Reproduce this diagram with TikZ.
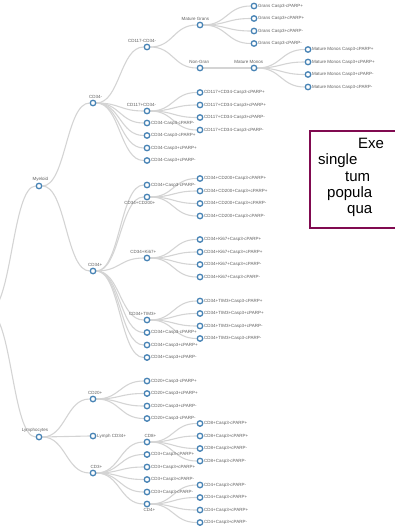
\documentclass[tikz,border=0pt]{standalone}
\usepackage{fontspec}
\setmainfont{Liberation Sans}
\usepackage{xcolor}
\usepackage{tikz}
\usetikzlibrary{calc}
\usetikzlibrary{backgrounds}

\definecolor{nodeblue}{RGB}{70,130,180}
\definecolor{linkgray}{RGB}{212,212,212}
\definecolor{labelgray}{RGB}{95,95,95}
\definecolor{boxpurple}{RGB}{128,10,80}

\begin{document}
\begin{tikzpicture}[x=1pt,y=-1pt,
    tree node/.style={circle,draw=nodeblue,fill=white,line width=1.3pt,inner sep=0pt,minimum size=5.5pt},
    lbl/.style={font=\fontsize{4.5}{5}\selectfont,text=labelgray,inner sep=0.6pt},
    leaf/.style={tree node,label={[lbl]right:#1}},
    up/.style={tree node,label={[lbl,anchor=south east,xshift=10pt]north:#1}},
    down/.style={tree node,label={[lbl,anchor=north east,xshift=9pt]south:#1}},
    link/.style={draw=linkgray,line width=1.1pt},
    diag/.style={to path={let \p1=(\tikztostart),\p2=(\tikztotarget) in
        .. controls ({(\x1+\x2)/2},\y1) and ({(\x1+\x2)/2},\y2) .. (\tikztotarget)}},
    boxtxt/.style={font=\fontsize{15}{16}\selectfont,inner sep=0pt,anchor=base west}]

    \useasboundingbox (0,0) rectangle (395,530);

    % tree
    \node[tree node] (root) at (-15,311.5) {};
    \node[up=Myeloid] (mye) at (39,186) {};
    \node[up=Lymphocytes] (lym) at (39,437) {};

    \node[up=CD34-] (cdneg) at (93,103) {};
    \node[up=CD34+] (cdpos) at (93,271) {};

    \node[up=CD117-CD34-] (kitneg) at (147,47) {};
    \node[up=CD117+CD34-] (kitpos) at (147,111) {};
    \node[leaf=CD34-Casp3-cPARP-] (neg1) at (147,123) {};
    \node[leaf=CD34-Casp3-cPARP+] (neg2) at (147,135.5) {};
    \node[leaf=CD34-Casp3+cPARP+] (neg3) at (147,148) {};
    \node[leaf=CD34-Casp3+cPARP-] (neg4) at (147,160.5) {};

    \node[up=Mature Grans] (grans) at (200,25) {};
    \node[up=Non-Gran] (nongran) at (200,68) {};
    \node[leaf=Grans Casp3-cPARP+] (gr1) at (254,6) {};
    \node[leaf=Grans Casp3+cPARP+] (gr2) at (254,18.5) {};
    \node[leaf=Grans Casp3+cPARP-] (gr3) at (254,31) {};
    \node[leaf=Grans Casp3-cPARP-] (gr4) at (254,43.5) {};
    \node[up=Mature Monos] (monos) at (254,68) {};
    \node[leaf=Mature Monos Casp3-cPARP+] (mo1) at (308,49.5) {};
    \node[leaf=Mature Monos Casp3+cPARP+] (mo2) at (308,62) {};
    \node[leaf=Mature Monos Casp3+cPARP-] (mo3) at (308,74.5) {};
    \node[leaf=Mature Monos Casp3-cPARP-] (mo4) at (308,87) {};

    \node[leaf=CD117+CD34-Casp3-cPARP+] (kp1) at (200,92.5) {};
    \node[leaf=CD117+CD34-Casp3+cPARP+] (kp2) at (200,105) {};
    \node[leaf=CD117+CD34-Casp3+cPARP-] (kp3) at (200,117.5) {};
    \node[leaf=CD117+CD34-Casp3-cPARP-] (kp4) at (200,130) {};

    \node[leaf=CD34+Casp3-cPARP-] (pos1) at (147,185) {};
    \node[down=CD34+CD200+] (cd200) at (147,197) {};
    \node[up=CD34+Ki67+] (ki67) at (147,258) {};
    \node[up=CD34+TIM3+] (tim3) at (147,320) {};
    \node[leaf=CD34+Casp3-cPARP+] (pos2) at (147,332.5) {};
    \node[leaf=CD34+Casp3+cPARP+] (pos3) at (147,345) {};
    \node[leaf=CD34+Casp3+cPARP-] (pos4) at (147,357.5) {};

    \node[leaf=CD34+CD200+Casp3-cPARP+] (cc1) at (200,178.5) {};
    \node[leaf=CD34+CD200+Casp3+cPARP+] (cc2) at (200,191) {};
    \node[leaf=CD34+CD200+Casp3+cPARP-] (cc3) at (200,203.5) {};
    \node[leaf=CD34+CD200+Casp3-cPARP-] (cc4) at (200,216) {};
    \node[leaf=CD34+Ki67+Casp3-cPARP+] (ki1) at (200,239.5) {};
    \node[leaf=CD34+Ki67+Casp3+cPARP+] (ki2) at (200,252) {};
    \node[leaf=CD34+Ki67+Casp3+cPARP-] (ki3) at (200,264.5) {};
    \node[leaf=CD34+Ki67+Casp3-cPARP-] (ki4) at (200,277) {};
    \node[leaf=CD34+TIM3+Casp3-cPARP+] (ti1) at (200,301) {};
    \node[leaf=CD34+TIM3+Casp3+cPARP+] (ti2) at (200,313.5) {};
    \node[leaf=CD34+TIM3+Casp3+cPARP-] (ti3) at (200,326) {};
    \node[leaf=CD34+TIM3+Casp3-cPARP-] (ti4) at (200,338.5) {};

    \node[up=CD20+] (cd20) at (93,399) {};
    \node[leaf=Lymph CD34+] (lymcd34) at (93,436) {};
    \node[up=CD3+] (cd3) at (93,473) {};

    \node[leaf=CD20+Casp3-cPARP+] (b1) at (147,381) {};
    \node[leaf=CD20+Casp3+cPARP+] (b2) at (147,393.5) {};
    \node[leaf=CD20+Casp3+cPARP-] (b3) at (147,406) {};
    \node[leaf=CD20+Casp3-cPARP-] (b4) at (147,418.5) {};

    \node[up=CD8+] (cd8) at (147,442) {};
    \node[leaf=CD3+Casp3-cPARP+] (t1) at (147,454.5) {};
    \node[leaf=CD3+Casp3+cPARP+] (t2) at (147,467) {};
    \node[leaf=CD3+Casp3+cPARP-] (t3) at (147,479.5) {};
    \node[leaf=CD3+Casp3-cPARP-] (t4) at (147,492) {};
    \node[down=CD4+] (cd4) at (147,504) {};

    \node[leaf=CD8+Casp3-cPARP+] (e1) at (200,423.5) {};
    \node[leaf=CD8+Casp3+cPARP+] (e2) at (200,436) {};
    \node[leaf=CD8+Casp3+cPARP-] (e3) at (200,448.5) {};
    \node[leaf=CD8+Casp3-cPARP-] (e4) at (200,461) {};
    \node[leaf=CD4+Casp3-cPARP-] (f1) at (200,485) {};
    \node[leaf=CD4+Casp3-cPARP+] (f2) at (200,497.5) {};
    \node[leaf=CD4+Casp3+cPARP+] (f3) at (200,510) {};
    \node[leaf=CD4+Casp3+cPARP-] (f4) at (200,522.5) {};

    \begin{scope}[on background layer]
    \clip (0,0) rectangle (395,530);
    \path[every edge/.style={link,diag}]
        (root) edge (mye) edge (lym)
        (mye) edge (cdneg) edge (cdpos)
        (cdneg) edge (kitneg) edge (kitpos) edge (neg1) edge (neg2) edge (neg3) edge (neg4)
        (kitneg) edge (grans) edge (nongran)
        (grans) edge (gr1) edge (gr2) edge (gr3) edge (gr4)
        (nongran) edge (monos)
        (monos) edge (mo1) edge (mo2) edge (mo3) edge (mo4)
        (kitpos) edge (kp1) edge (kp2) edge (kp3) edge (kp4)
        (cdpos) edge (pos1) edge (cd200) edge (ki67) edge (tim3) edge (pos2) edge (pos3) edge (pos4)
        (cd200) edge (cc1) edge (cc2) edge (cc3) edge (cc4)
        (ki67) edge (ki1) edge (ki2) edge (ki3) edge (ki4)
        (tim3) edge (ti1) edge (ti2) edge (ti3) edge (ti4)
        (lym) edge (cd20) edge (lymcd34) edge (cd3)
        (cd20) edge (b1) edge (b2) edge (b3) edge (b4)
        (cd3) edge (cd8) edge (t1) edge (t2) edge (t3) edge (t4) edge (cd4)
        (cd8) edge (e1) edge (e2) edge (e3) edge (e4)
        (cd4) edge (f1) edge (f2) edge (f3) edge (f4);
    \end{scope}

    % note box, cut by the right edge
    \draw[boxpurple,line width=1.5pt] (310,131) rectangle (440,228);
    \node[boxtxt] (ln1) at (358,148.5) {Exe};
    \node[boxtxt] (ln2) at (318,164.5) {single};
    \node[boxtxt] (ln3) at (345,181) {tum};
    \node[boxtxt] (ln4) at (327,197) {popula};
    \node[boxtxt] (ln5) at (347,213.5) {qua};
\end{tikzpicture}
\end{document}
